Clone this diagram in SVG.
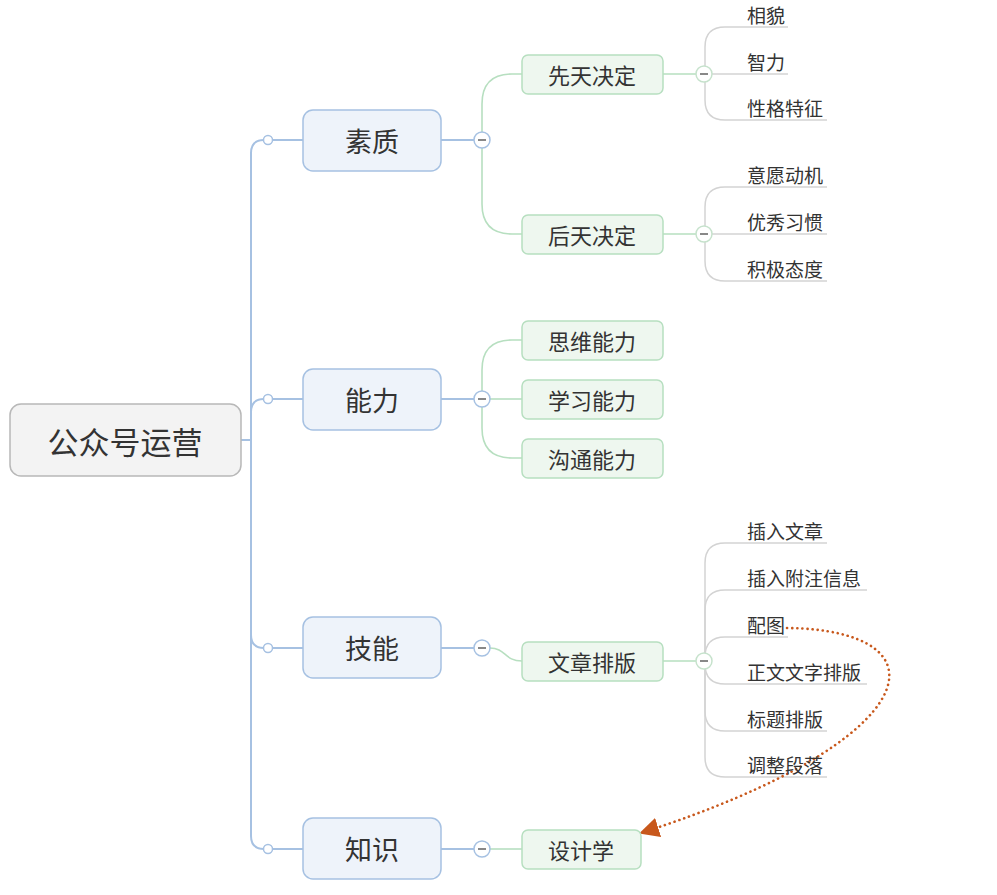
<svg xmlns="http://www.w3.org/2000/svg" width="997" height="895" viewBox="0 0 997 895">
<defs>
<style>
text{font-family:"Noto Sans CJK SC","Noto Sans",sans-serif;fill:#333}
.root{fill:#f3f3f3;stroke:#b8b8b8;stroke-width:1.5}
.l1{fill:#eef3fa;stroke:#a6c1e2;stroke-width:1.5}
.l2{fill:#eef7ef;stroke:#b7dfc0;stroke-width:1.5}
.blue{fill:none;stroke:#a6c1e2;stroke-width:2}
.green{fill:none;stroke:#b7dfc0;stroke-width:1.6}
.grey{fill:none;stroke:#d3d3d3;stroke-width:1.5}
.dot{fill:#fff;stroke:#a6c1e2;stroke-width:1.5}
.minb{fill:#fff;stroke:#a6c1e2;stroke-width:1.5}
.ming{fill:#fff;stroke:#c6e2cc;stroke-width:1.5}
.dash{stroke:#888;stroke-width:2}
.t0{font-size:31px}
.t1{font-size:27px}
.t2{font-size:22px}
.t3{font-size:19px}
</style>
<marker id="arr" viewBox="0 0 10 10" refX="9" refY="5" markerWidth="20" markerHeight="20" markerUnits="userSpaceOnUse" orient="auto">
<path d="M0,0 L10,5 L0,10 Z" fill="#c8581c"/>
</marker>
</defs>

<g id="connectors">
<path class="blue" d="M241,440 H251"/>
<path class="blue" d="M264,140 Q251,140 251,153 V836 Q251,849 264,849"/>
<path class="blue" d="M251,412 Q251,399 264,399"/>
<path class="blue" d="M251,635 Q251,648 264,648"/>
<path class="blue" d="M272,140 H303 M272,399 H303 M272,648 H303 M272,849 H303"/>
<path class="blue" d="M441,140 H474 M441,399 H474 M441,648 H474 M441,849 H474"/>
<path class="green" d="M482,148 V104 Q482,74 512,74 H522"/>
<path class="green" d="M482,148 V204 Q482,234 512,234 H522"/>
<path class="green" d="M482,391 V370 Q482,340 512,340 H522"/>
<path class="green" d="M490,399 H522"/>
<path class="green" d="M482,407 V428 Q482,458 512,458 H522"/>
<path class="green" d="M490,648 C506,648 504,661 522,661"/>
<path class="green" d="M490,849 H522"/>
<path class="green" d="M663,74 H696 M663,234 H696 M663,661 H696"/>
<path class="grey" d="M705,66 V47 Q705,27 725,27 H788"/>
<path class="grey" d="M712,74 H788"/>
<path class="grey" d="M705,82 V100 Q705,120 725,120 H827"/>
<path class="grey" d="M705,226 V207 Q705,187 725,187 H827"/>
<path class="grey" d="M712,234 H827"/>
<path class="grey" d="M705,242 V261 Q705,281 725,281 H827"/>
<path class="grey" d="M705,653 V563 Q705,543 725,543 H827"/>
<path class="grey" d="M705,653 V610 Q705,590 725,590 H867"/>
<path class="grey" d="M705,653 V657 Q705,637 725,637 H788"/>
<path class="grey" d="M705,669 V664 Q705,684 725,684 H867"/>
<path class="grey" d="M705,669 V711 Q705,731 725,731 H827"/>
<path class="grey" d="M705,669 V757 Q705,777 725,777 H827"/>
<path d="M787,628 C950,630 930,740 641,833" fill="none" stroke="#c8581c" stroke-width="2.6" stroke-dasharray="0.1 5" stroke-linecap="round" marker-end="url(#arr)"/>
</g>

<g id="collapse">
<circle class="dot" cx="268" cy="140" r="4.5"/>
<circle class="dot" cx="268" cy="399" r="4.5"/>
<circle class="dot" cx="268" cy="648" r="4.5"/>
<circle class="dot" cx="268" cy="849" r="4.5"/>
<g><circle class="minb" cx="482" cy="140" r="8"/><path class="dash" d="M478,140 H486"/></g>
<g><circle class="minb" cx="482" cy="399" r="8"/><path class="dash" d="M478,399 H486"/></g>
<g><circle class="minb" cx="482" cy="648" r="8"/><path class="dash" d="M478,648 H486"/></g>
<g><circle class="minb" cx="482" cy="849" r="8"/><path class="dash" d="M478,849 H486"/></g>
<g><circle class="ming" cx="704" cy="74" r="8"/><path class="dash" d="M700,74 H708"/></g>
<g><circle class="ming" cx="704" cy="234" r="8"/><path class="dash" d="M700,234 H708"/></g>
<g><circle class="ming" cx="704" cy="661" r="8"/><path class="dash" d="M700,661 H708"/></g>
</g>

<g id="root"><rect class="root" x="10" y="404" width="231" height="72" rx="11"/><text class="t0" x="125" y="440" text-anchor="middle" dominant-baseline="central">公众号运营</text></g>

<g id="suzhi"><rect class="l1" x="303" y="110" width="138" height="61" rx="10"/><text class="t1" x="372" y="140" text-anchor="middle" dominant-baseline="central">素质</text></g>
<g id="nengli"><rect class="l1" x="303" y="369" width="138" height="61" rx="10"/><text class="t1" x="372" y="399" text-anchor="middle" dominant-baseline="central">能力</text></g>
<g id="jineng"><rect class="l1" x="303" y="617" width="138" height="61" rx="10"/><text class="t1" x="372" y="647" text-anchor="middle" dominant-baseline="central">技能</text></g>
<g id="zhishi"><rect class="l1" x="303" y="818" width="138" height="61" rx="10"/><text class="t1" x="372" y="848" text-anchor="middle" dominant-baseline="central">知识</text></g>

<g id="xiantian"><rect class="l2" x="522" y="55" width="141" height="39" rx="6"/><text class="t2" x="592" y="74" text-anchor="middle" dominant-baseline="central">先天决定</text></g>
<g id="houtian"><rect class="l2" x="522" y="215" width="141" height="39" rx="6"/><text class="t2" x="592" y="234" text-anchor="middle" dominant-baseline="central">后天决定</text></g>
<g id="siwei"><rect class="l2" x="522" y="321" width="141" height="39" rx="6"/><text class="t2" x="592" y="340" text-anchor="middle" dominant-baseline="central">思维能力</text></g>
<g id="xuexi"><rect class="l2" x="522" y="380" width="141" height="39" rx="6"/><text class="t2" x="592" y="399" text-anchor="middle" dominant-baseline="central">学习能力</text></g>
<g id="goutong"><rect class="l2" x="522" y="439" width="141" height="39" rx="6"/><text class="t2" x="592" y="458" text-anchor="middle" dominant-baseline="central">沟通能力</text></g>
<g id="paiban"><rect class="l2" x="522" y="642" width="141" height="39" rx="6"/><text class="t2" x="592" y="661" text-anchor="middle" dominant-baseline="central">文章排版</text></g>
<g id="sheji"><rect class="l2" x="522" y="830" width="119" height="39" rx="6"/><text class="t2" x="581" y="849" text-anchor="middle" dominant-baseline="central">设计学</text></g>

<g id="leaves">
<g id="l-xiangmao"><text class="t3" x="747" y="14" dominant-baseline="central">相貌</text></g>
<g id="l-zhili"><text class="t3" x="747" y="61" dominant-baseline="central">智力</text></g>
<g id="l-xingge"><text class="t3" x="747" y="107" dominant-baseline="central">性格特征</text></g>
<g id="l-yiyuan"><text class="t3" x="747" y="174" dominant-baseline="central">意愿动机</text></g>
<g id="l-youxiu"><text class="t3" x="747" y="221" dominant-baseline="central">优秀习惯</text></g>
<g id="l-jiji"><text class="t3" x="747" y="268" dominant-baseline="central">积极态度</text></g>
<g id="l-charu"><text class="t3" x="747" y="530" dominant-baseline="central">插入文章</text></g>
<g id="l-fuzhu"><text class="t3" x="747" y="577" dominant-baseline="central">插入附注信息</text></g>
<g id="l-peitu"><text class="t3" x="747" y="624" dominant-baseline="central">配图</text></g>
<g id="l-zhengwen"><text class="t3" x="747" y="671" dominant-baseline="central">正文文字排版</text></g>
<g id="l-biaoti"><text class="t3" x="747" y="718" dominant-baseline="central">标题排版</text></g>
<g id="l-tiaozheng"><text class="t3" x="747" y="764" dominant-baseline="central">调整段落</text></g>
</g>
</svg>
